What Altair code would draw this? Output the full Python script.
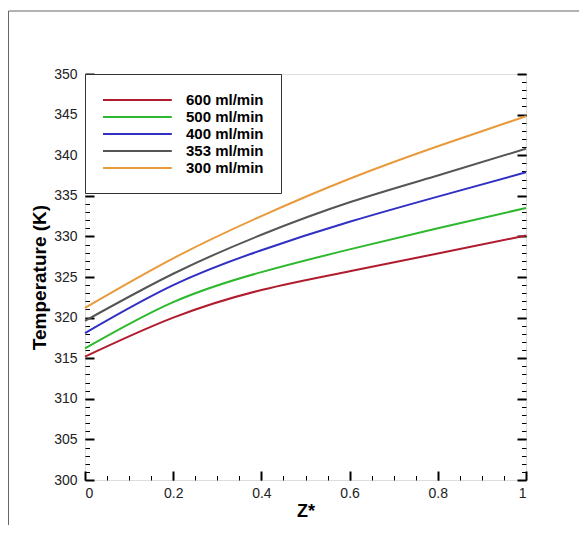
import altair as alt
import pandas as pd

# ---- data ----
z_values = [0.0, 0.2, 0.4, 0.6, 0.8, 1.0]
series_names = ["600 ml/min", "500 ml/min", "400 ml/min", "353 ml/min", "300 ml/min"]
t_600 = [315.2, 320.0, 323.4, 325.7, 327.9, 330.1]
t_500 = [316.2, 321.9, 325.6, 328.4, 331.0, 333.5]
t_400 = [318.1, 324.0, 328.3, 331.8, 334.9, 337.9]
t_353 = [319.6, 325.4, 330.2, 334.2, 337.5, 340.8]
t_300 = [321.2, 327.3, 332.5, 337.1, 341.1, 344.8]
series_colors = ["#b01c2e", "#2db82d", "#2f2fc4", "#555555", "#e89a3c"]

y_major = [300, 305, 310, 315, 320, 325, 330, 335, 340, 345, 350]
y_minor = list(range(300, 351))
x_major = [0, 0.2, 0.4, 0.6, 0.8, 1.0]
x_minor = [0, 0.05, 0.1, 0.15, 0.2, 0.25, 0.3, 0.35, 0.4, 0.45, 0.5,
           0.55, 0.6, 0.65, 0.7, 0.75, 0.8, 0.85, 0.9, 0.95, 1.0]

all_t = [t_600, t_500, t_400, t_353, t_300]
rows = []
for name, ts in zip(series_names, all_t):
    for z, t in zip(z_values, ts):
        rows.append({"series": name, "z": z, "T": t})
df = pd.DataFrame(rows)

W, H = 441, 406
FONT = "Liberation Sans"

xs = alt.Scale(domain=[0, 1], nice=False, zero=False)
ys = alt.Scale(domain=[300, 350], nice=False, zero=False)

color = alt.Color(
    "series:N",
    scale=alt.Scale(domain=series_names, range=series_colors),
    sort=series_names,
    legend=alt.Legend(
        title=None, orient="none", legendX=0, legendY=0, direction="vertical",
        strokeColor="#333333", fillColor="white", padding=17,
        symbolType="M-1,0H7.6", symbolSize=256, symbolStrokeWidth=2,
        labelFont=FONT, labelFontSize=15, labelFontWeight="bold",
        labelColor="black", labelOffset=66, rowPadding=0,
    ),
)

lines = alt.Chart(df).mark_line(strokeWidth=2, interpolate="natural").encode(
    x=alt.X("z:Q", scale=xs, axis=alt.Axis(
        values=x_major, format="~g", ticks=False, domain=False, grid=False,
        labelFontSize=14, labelPadding=6, labelColor="#222222", labelFont=FONT,
        title="Z*", titleFontSize=18, titleFontWeight="bold", titlePadding=2,
        titleFont=FONT, titleColor="black")),
    y=alt.Y("T:Q", scale=ys, axis=alt.Axis(
        values=y_major, ticks=False, domain=False, grid=False,
        labelFontSize=14, labelPadding=8, labelColor="#222222", labelFont=FONT,
        title="Temperature (K)", titleFontSize=19, titleFontWeight="bold",
        titlePadding=4, titleFont=FONT, titleColor="black")),
    color=color,
    detail="series:N",
)


def tick_axis(orient, offset, values, size, width):
    return alt.Axis(orient=orient, offset=offset, values=values, labels=False,
                    domain=False, grid=False, ticks=True, tickSize=size,
                    tickWidth=width, tickColor="black", title=None)


def tick_layer(xaxis, yaxis):
    return alt.Chart(df).mark_line(opacity=0).encode(
        x=alt.X("z:Q", scale=xs, axis=xaxis),
        y=alt.Y("T:Q", scale=ys, axis=yaxis),
        detail="series:N",
    )


layers = [
    tick_layer(None, tick_axis("right", -W, y_major, 9, 2)),
    tick_layer(None, tick_axis("right", -W, y_minor, 4.5, 1)),
    tick_layer(None, tick_axis("left", -W, y_major, 9, 2)),
    tick_layer(None, tick_axis("left", -W, y_minor, 4.5, 1)),
    tick_layer(tick_axis("top", -H, x_major, 9, 2), None),
    tick_layer(tick_axis("top", -H, x_minor, 4.5, 1), None),
]

frame = alt.Chart(pd.DataFrame({"f": [0]})).mark_rect(
    fill="transparent", stroke="#666666", strokeWidth=1
).encode(
    x=alt.value(-76.5), x2=alt.value(W + 200),
    y=alt.value(-63), y2=alt.value(H + 200),
)

chart = alt.layer(frame, lines, *layers).resolve_axis(
    x="independent", y="independent"
).properties(
    width=W, height=H,
    padding={"left": 77, "top": 66, "right": 53, "bottom": 45},
    autosize=alt.AutoSizeParams(type="none"),
).configure_view(
    stroke="black", strokeWidth=2
).configure(
    font=FONT, background="white"
)

chart.save("out.html", embed_options={"renderer": "svg", "actions": False})
